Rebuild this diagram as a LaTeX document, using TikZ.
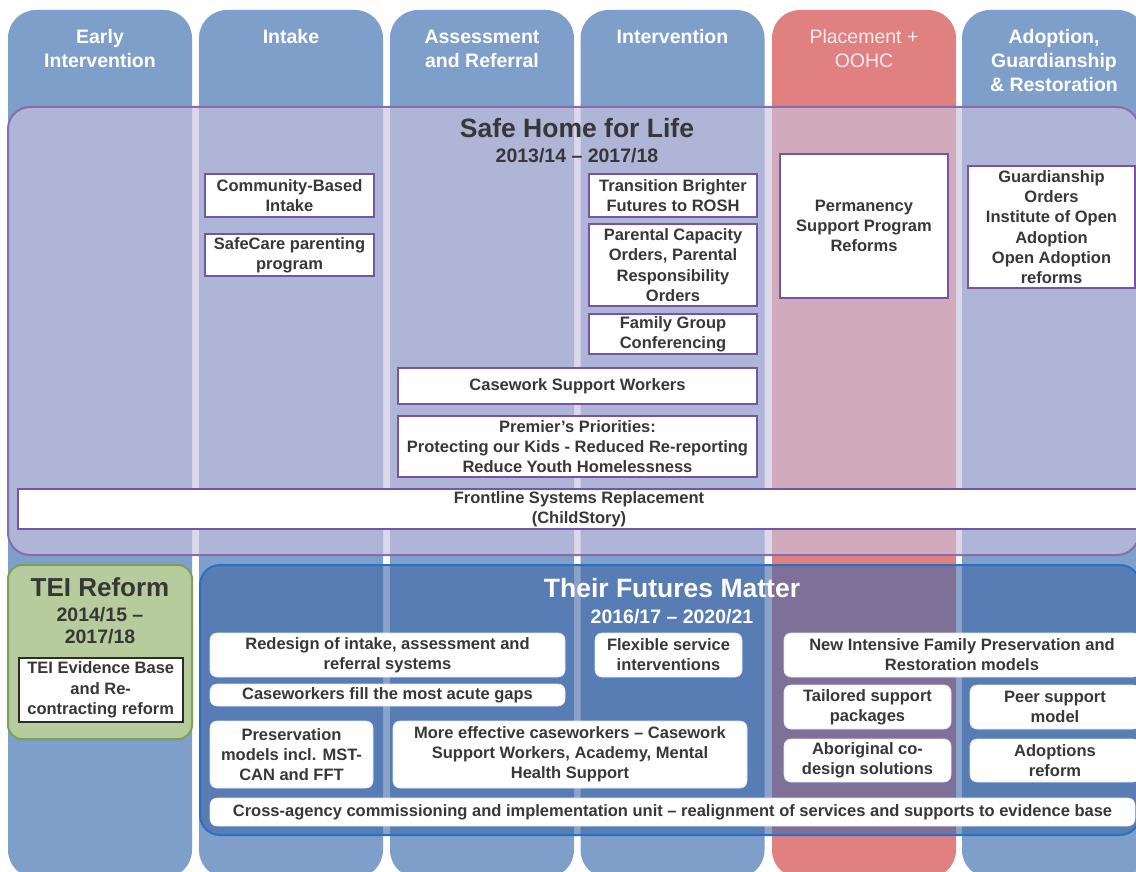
\documentclass[tikz,border=0pt]{standalone}
\usepackage{fontspec}
\setmainfont{Liberation Sans}
\definecolor{colblue}{RGB}{127,159,203}
\definecolor{colred}{RGB}{224,128,128}
\definecolor{shfill}{RGB}{201,194,222}
\definecolor{shborder}{RGB}{136,108,174}
\definecolor{boxborder}{RGB}{118,86,164}
\definecolor{tfmfill}{RGB}{62,102,165}
\definecolor{tfmborder}{RGB}{42,112,192}
\definecolor{teifill}{RGB}{182,204,156}
\definecolor{teiborder}{RGB}{125,160,90}
\definecolor{txt}{RGB}{55,55,55}
\definecolor{pinkwhite}{RGB}{252,236,236}
\begin{document}
\begin{tikzpicture}[x=1pt,y=-1pt,
  every node/.style={inner sep=0pt, outer sep=0pt},
  col/.style={rectangle, rounded corners=28pt, minimum width=184pt, minimum height=868pt},
  hdr/.style={align=center, text=white, font=\fontsize{19.5}{24}\selectfont\bfseries},
  bigtitle/.style={align=center, font=\fontsize{26.5}{30}\selectfont\bfseries},
  datetitle/.style={align=center, font=\fontsize{19.5}{22}\selectfont\bfseries},
  shbox/.style={draw=boxborder, line width=2pt, fill=white, align=center, text=txt,
     font=\fontsize{16.5}{20.3}\selectfont\bfseries},
  tfmbox/.style={fill=white, draw=white!90!blue, line width=0.6pt, rounded corners=7pt, align=center, text=txt,
     font=\fontsize{16.5}{20}\selectfont\bfseries},
  region/.style={rectangle, line width=2pt}
]
\useasboundingbox (0,0) rectangle (1136,872);
\clip (0,0) rectangle (1136,872);
\fill[white] (0,0) rectangle (1136,872);

% columns
\node[col, fill=colblue] (c1) at (100,444) {};
\node[col, fill=colblue] (c2) at (291,444) {};
\node[col, fill=colblue] (c3) at (482,444) {};
\node[col, fill=colblue] (c4) at (672.5,444) {};
\node[col, fill=colred]  (c5) at (864,444) {};
\node[col, fill=colblue] (c6) at (1054,444) {};

% headers
\node[hdr] (h1) at (100,49) {Early\\Intervention};
\node[hdr] (h2) at (291,37) {Intake};
\node[hdr] (h3) at (482,49) {Assessment\\and Referral};
\node[hdr] (h4) at (672.5,37) {Intervention};
\node[hdr, text=pinkwhite, font=\fontsize{19.5}{24}\selectfont] (h5) at (864,49) {Placement +\\OOHC};
\node[hdr] (h6) at (1054,61) {Adoption,\\Guardianship\\\& Restoration};

% Safe Home for Life region
\node[region, rounded corners=22pt, fill=shfill, fill opacity=0.64, draw=shborder,
      minimum width=1131pt, minimum height=448pt] (sh) at (573.5,331) {};
\node[bigtitle, text=txt] (shtitle) at (577,128) {Safe Home for Life};
\node[datetitle, text=txt] (shdate) at (577,156) {2013/14 -- 2017/18};

\node[shbox, minimum width=169pt, minimum height=43pt] (cbi) at (289.5,195.5) {Community-Based\\Intake};
\node[shbox, minimum width=169pt, minimum height=42pt] (safecare) at (289.5,255) {SafeCare parenting\\program};
\node[shbox, minimum width=168pt, minimum height=43pt] (tbf) at (673,195.5) {Transition Brighter\\Futures to ROSH};
\node[shbox, minimum width=168pt, minimum height=82pt] (pco) at (673,265) {Parental Capacity\\Orders, Parental\\Responsibility\\Orders};
\node[shbox, minimum width=168pt, minimum height=40pt] (fgc) at (673,334) {Family Group\\Conferencing};
\node[shbox, minimum width=359pt, minimum height=36pt] (csw) at (577.5,386) {Casework Support Workers};
\node[shbox, minimum width=359pt, minimum height=61pt] (pp) at (577.5,446.5) {Premier’s Priorities:\\Protecting our Kids - Reduced Re-reporting\\Reduce Youth Homelessness};
\node[shbox, minimum width=1122pt, minimum height=40pt] (fsr) at (579,509) {Frontline Systems Replacement\\(ChildStory)};
\node[shbox, minimum width=168pt, minimum height=144pt] (psp) at (864,226) {Permanency\\Support Program\\Reforms};
\node[shbox, minimum width=167pt, minimum height=122pt] (guard) at (1051.5,227) {Guardianship\\Orders\\Institute of Open\\Adoption\\Open Adoption\\reforms};

% Their Futures Matter region
\node[region, rounded corners=20pt, fill=tfmfill, fill opacity=0.6, draw=tfmborder,
      minimum width=940pt, minimum height=270pt] (tfm) at (670,700) {};
\node[bigtitle, text=white] (tfmtitle) at (672,588) {Their Futures Matter};
\node[datetitle, text=white] (tfmdate) at (672,617) {2016/17 -- 2020/21};

\node[tfmbox, minimum width=355pt, minimum height=44pt] (redesign) at (387.5,655) {Redesign of intake, assessment and\\referral systems};
\node[tfmbox, minimum width=355pt, minimum height=22pt] (fill) at (387.5,695) {Caseworkers fill the most acute gaps};
\node[tfmbox, minimum width=163pt, minimum height=67pt] (pres) at (291.5,754.5) {Preservation\\models incl. MST-\\CAN and FFT};
\node[tfmbox, minimum width=354pt, minimum height=67pt] (more) at (570,754.5) {More effective caseworkers -- Casework\\Support Workers, Academy, Mental\\Health Support};
\node[tfmbox, minimum width=925pt, minimum height=28pt] (cross) at (672.5,812) {Cross-agency commissioning and implementation unit -- realignment of services and supports to evidence base};
\node[tfmbox, minimum width=147pt, minimum height=44pt] (flex) at (668.5,655) {Flexible service\\interventions};
\node[tfmbox, minimum width=356pt, minimum height=44pt] (new) at (962,655) {New Intensive Family Preservation and\\Restoration models};
\node[tfmbox, minimum width=167pt, minimum height=44pt] (tailored) at (867.5,707) {Tailored support\\packages};
\node[tfmbox, minimum width=170pt, minimum height=44pt] (peer) at (1055,707) {Peer support\\model};
\node[tfmbox, minimum width=167pt, minimum height=43pt] (abor) at (867.5,760.5) {Aboriginal co-\\design solutions};
\node[tfmbox, minimum width=170pt, minimum height=43pt] (adopt) at (1055,760.5) {Adoptions\\reform};

% TEI Reform region
\node[region, rounded corners=14pt, fill=teifill, draw=teiborder,
      minimum width=184pt, minimum height=174pt] (tei) at (100,652) {};
\node[bigtitle, text=txt, font=\fontsize{26}{30}\selectfont\bfseries] (teititle) at (100,587) {TEI Reform};
\node[datetitle, text=txt] (teidate) at (100,626) {2014/15 --\\2017/18};
\node[shbox, draw=txt!80!black, minimum width=163.5pt, minimum height=64pt] (teibox) at (100.75,690) {TEI Evidence Base\\and Re-\\contracting reform};
\end{tikzpicture}
\end{document}
